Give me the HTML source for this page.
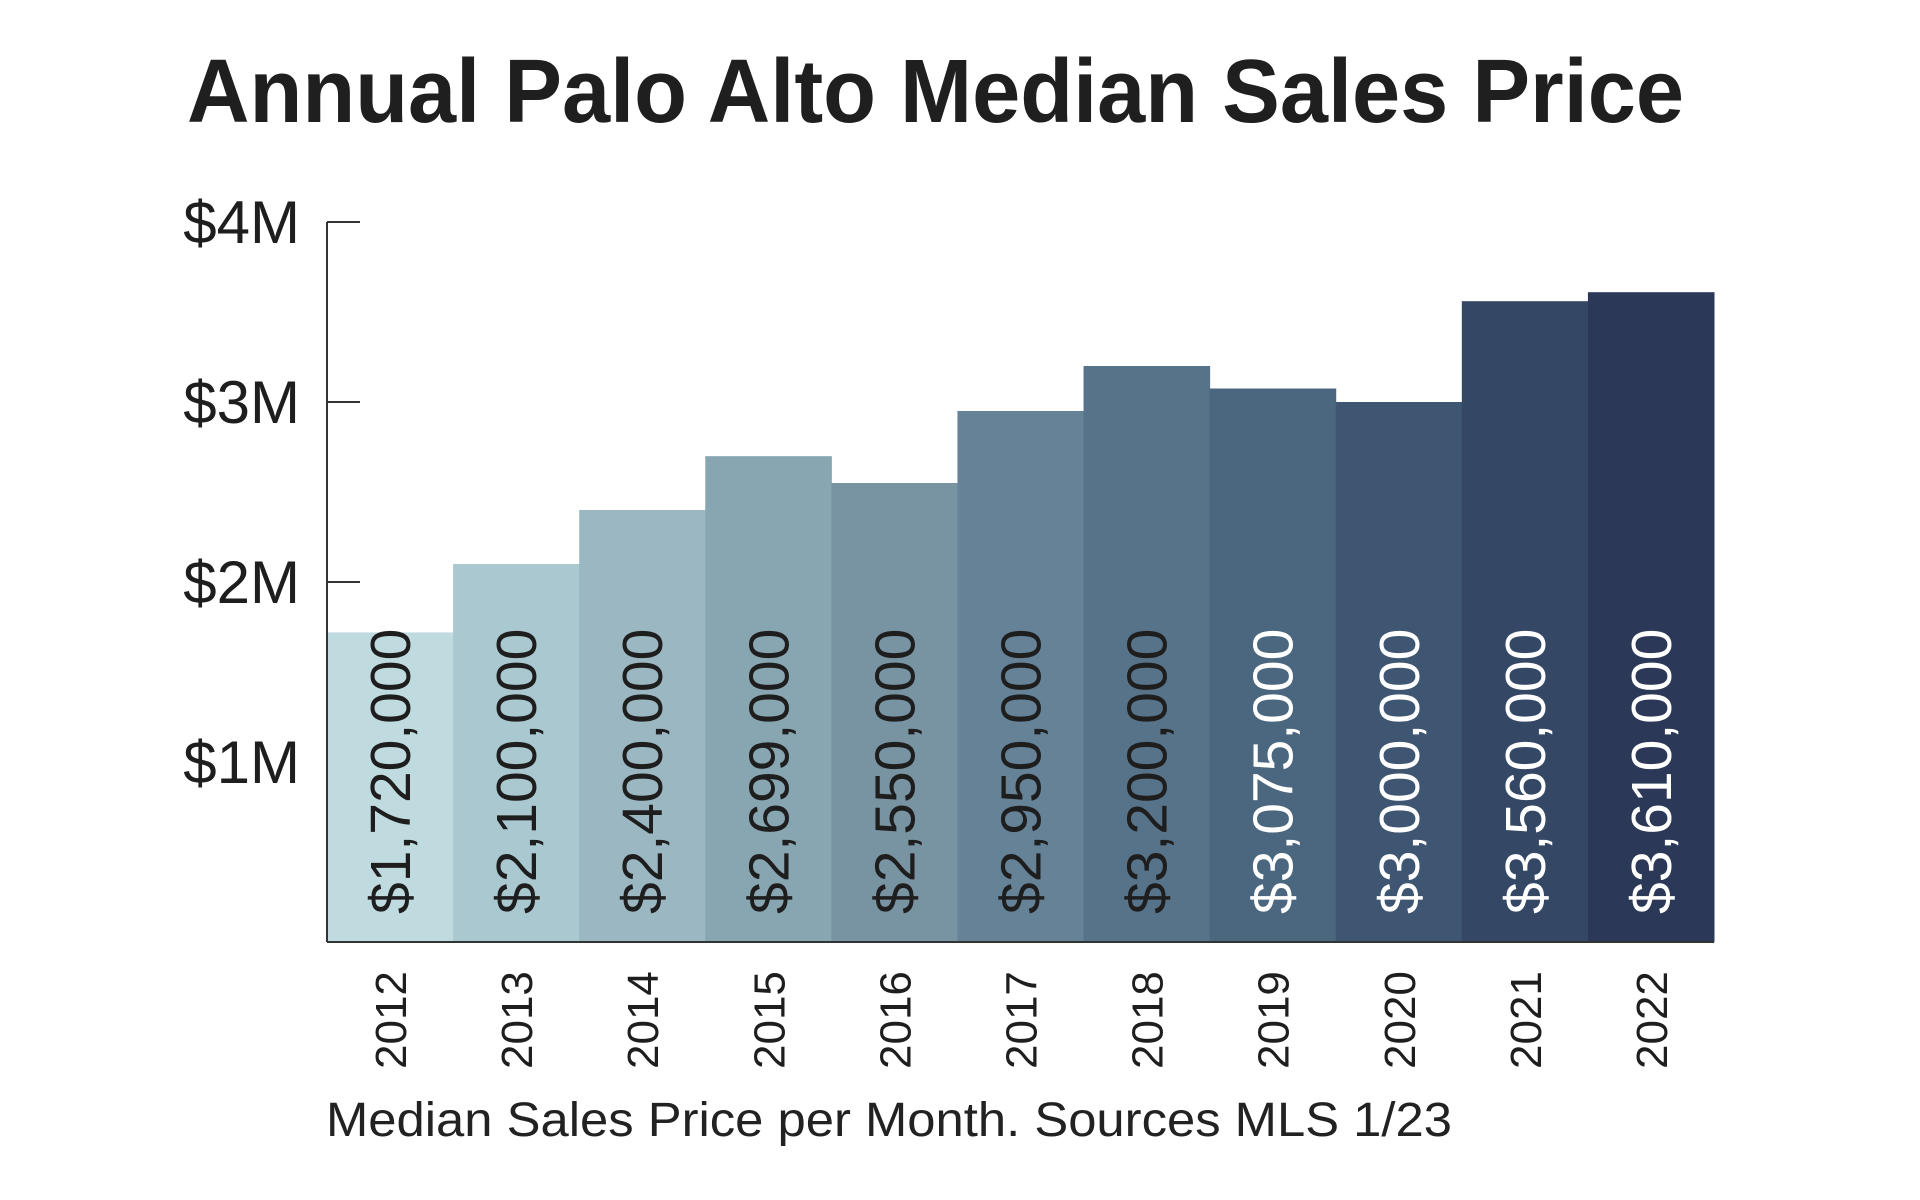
<!DOCTYPE html>
<html><head><meta charset="utf-8"><style>
html,body{margin:0;padding:0;background:#fff;}
svg{display:block;}
text{font-family:"Liberation Sans",sans-serif;}
</style></head>
<body>
<svg id="chart" width="1920" height="1200" viewBox="0 0 1920 1200">
<text x="187" y="122" font-size="90" font-weight="bold" fill="#1f1f1f" textLength="1497" lengthAdjust="spacingAndGlyphs">Annual Palo Alto Median Sales Price</text>
<g id="bars"></g>
<g id="axis"></g>
<text x="326" y="1136" font-size="48" fill="#222" textLength="1126" lengthAdjust="spacingAndGlyphs">Median Sales Price per Month. Sources MLS 1/23</text>
</svg>
<script>
const years = ['2012','2013','2014','2015','2016','2017','2018','2019','2020','2021','2022'];
const values = [1720000,2100000,2400000,2699000,2550000,2950000,3200000,3075000,3000000,3560000,3610000];
const valueLabels = ['$1,720,000','$2,100,000','$2,400,000','$2,699,000','$2,550,000','$2,950,000','$3,200,000','$3,075,000','$3,000,000','$3,560,000','$3,610,000'];
const colors = ['#bfdbdf','#aac8d0','#9ab7c2','#87a6b2','#7893a1','#658297','#577389','#4b667f','#3e5672','#344866','#2b3857'];
const yTicks = [1000000,2000000,3000000,4000000];
const yTickLabels = ['$1M','$2M','$3M','$4M'];

const NS='http://www.w3.org/2000/svg';
const x0=327, x1=1714, y0=942, yTop=222, yMax=4000000;
const bw=(x1-x0)/years.length;
const xPos=i=>x0+i*bw;
const yPos=v=>y0-(v/yMax)*(y0-yTop);
const bars=document.getElementById('bars');
const axis=document.getElementById('axis');
function mk(tag,attrs,parent){const e=document.createElementNS(NS,tag);for(const k in attrs)e.setAttribute(k,attrs[k]);parent.appendChild(e);return e;}

years.forEach((yr,i)=>{
  const r=mk('rect',{x:xPos(i),y:yPos(values[i]),width:bw+0.5,height:y0-yPos(values[i]),fill:colors[i]},bars);
  
  
  const cx=xPos(i)+bw/2;
  const t=mk('text',{x:0,y:0,transform:`translate(${cx+20},914) rotate(-90)`,'font-size':57,fill:i>=7?'#ffffff':'#1e1e1e'},bars);
  t.textContent=valueLabels[i];
  
  
  const yl=mk('text',{x:0,y:0,transform:`translate(${cx+16},1069) rotate(-90)`,'font-size':44,fill:'#1e1e1e'},bars);
  yl.textContent=yr;
  
  
});

const al=mk('line',{x1:x0,y1:yTop,x2:x0,y2:y0,stroke:'#333',"stroke-width":2},axis);


const bl=mk('line',{x1:x0,y1:y0,x2:x1,y2:y0,stroke:'#333',"stroke-width":2},axis);


yTicks.forEach((v,i)=>{
  const y=yPos(v);
  if(v>=2000000){
    const tk=mk('line',{x1:x0,y1:y,x2:360,y2:y,stroke:'#333',"stroke-width":2},axis);
    
    
  }
  const t=mk('text',{x:300,y:y+21,'text-anchor':'end','font-size':60,fill:'#1e1e1e'},axis);
  t.textContent=yTickLabels[i];
  
  
});
</script>
</body></html>
